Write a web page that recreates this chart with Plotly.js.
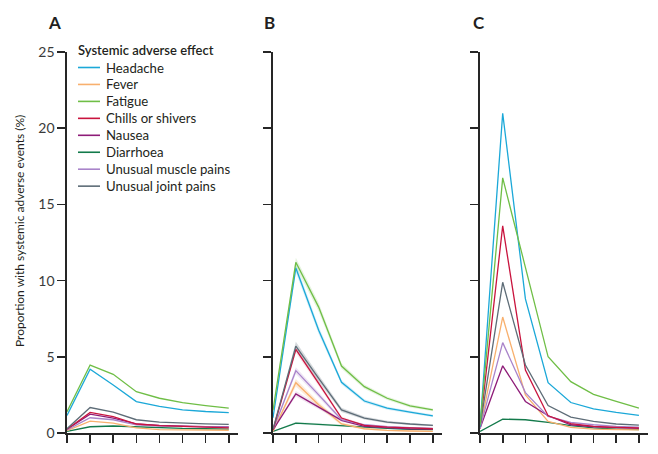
<!DOCTYPE html>
<html>
<head>
<meta charset="utf-8">
<script src="https://cdn.plot.ly/plotly-3.0.1.min.js"></script>
<style>
html,body{margin:0;padding:0;background:#fff;}
#chart{width:658px;height:454px;}
</style>
</head>
<body>
<div id="chart"></div>
<script>
// ---- data ----
var days = [0, 1, 2, 3, 4, 5, 6, 7];
var seriesNames = ["Headache", "Fever", "Fatigue", "Chills or shivers", "Nausea", "Diarrhoea", "Unusual muscle pains", "Unusual joint pains"];
var yTickVals = [0, 5, 10, 15, 20, 25];
var panelLabels = ["A", "B", "C"];
var legendTitle = "Systemic adverse effect";
var yTitle = "Proportion with systemic adverse events (%)";

// Panel A
var headacheA  = [1.15, 4.19, 3.15, 2.06, 1.74, 1.52, 1.41, 1.34];
var feverA     = [0.15, 0.78, 0.65, 0.33, 0.22, 0.20, 0.20, 0.18];
var fatigueA   = [1.39, 4.46, 3.85, 2.71, 2.28, 2.00, 1.80, 1.63];
var chillsA    = [0.25, 1.35, 1.08, 0.59, 0.48, 0.43, 0.39, 0.33];
var nauseaA    = [0.25, 1.24, 0.98, 0.60, 0.50, 0.45, 0.42, 0.40];
var diarrhoeaA = [0.10, 0.41, 0.46, 0.40, 0.35, 0.30, 0.28, 0.26];
var muscleA    = [0.20, 1.00, 0.87, 0.54, 0.45, 0.42, 0.40, 0.38];
var jointA     = [0.28, 1.67, 1.37, 0.87, 0.72, 0.65, 0.60, 0.57];

// Panel B
var headacheB  = [1.00, 10.83, 6.74, 3.33, 2.10, 1.63, 1.37, 1.13];
var feverB     = [0.10, 3.30, 1.85, 0.59, 0.28, 0.17, 0.13, 0.11];
var fatigueB   = [1.50, 11.20, 8.26, 4.39, 3.04, 2.28, 1.78, 1.52];
var chillsB    = [0.20, 5.48, 3.26, 0.98, 0.50, 0.39, 0.33, 0.28];
var nauseaB    = [0.20, 2.57, 1.70, 0.83, 0.43, 0.35, 0.28, 0.26];
var diarrhoeaB = [0.10, 0.65, 0.57, 0.48, 0.37, 0.30, 0.24, 0.22];
var muscleB    = [0.20, 4.09, 2.50, 0.87, 0.54, 0.41, 0.35, 0.30];
var jointB     = [0.25, 5.70, 3.59, 1.52, 0.98, 0.72, 0.59, 0.50];

// Panel B confidence half-widths
var headacheBci  = [0.10, 0.30, 0.25, 0.15, 0.12, 0.10, 0.09, 0.08];
var feverBci     = [0.05, 0.25, 0.18, 0.10, 0.06, 0.05, 0.04, 0.04];
var fatigueBci   = [0.10, 0.30, 0.28, 0.18, 0.14, 0.12, 0.10, 0.09];
var chillsBci    = [0.05, 0.22, 0.18, 0.10, 0.06, 0.05, 0.05, 0.04];
var nauseaBci    = [0.05, 0.18, 0.14, 0.09, 0.06, 0.05, 0.04, 0.04];
var diarrhoeaBci = [0.03, 0.08, 0.07, 0.06, 0.05, 0.04, 0.04, 0.04];
var muscleBci    = [0.05, 0.22, 0.17, 0.10, 0.07, 0.06, 0.05, 0.05];
var jointBci     = [0.05, 0.28, 0.22, 0.14, 0.10, 0.08, 0.07, 0.06];

// Panel C
var headacheC  = [0.40, 20.98, 8.80, 3.30, 2.00, 1.59, 1.35, 1.15];
var feverC     = [0.30, 7.61, 2.50, 0.76, 0.37, 0.26, 0.22, 0.20];
var fatigueC   = [0.50, 16.74, 10.87, 5.00, 3.37, 2.54, 2.07, 1.63];
var chillsC    = [0.40, 13.59, 4.13, 1.13, 0.61, 0.43, 0.37, 0.33];
var nauseaC    = [0.30, 4.41, 2.07, 1.13, 0.54, 0.41, 0.35, 0.30];
var diarrhoeaC = [0.10, 0.91, 0.87, 0.70, 0.48, 0.33, 0.26, 0.22];
var muscleC    = [0.30, 5.93, 2.65, 1.09, 0.70, 0.54, 0.43, 0.39];
var jointC     = [0.40, 9.89, 4.46, 1.80, 1.04, 0.76, 0.59, 0.52];

// ---- styles ----
var FONT = "Lato, 'Open Sans', sans-serif";
var colors = ["#1ba8d8", "#f8b06e", "#6fbe46", "#c9143e", "#8e1c78", "#137a4b", "#a984ca", "#5d6c77"];
var fills  = ["rgba(27,168,216,0.18)", "rgba(248,176,110,0.25)", "rgba(111,190,70,0.18)", "rgba(201,20,62,0.12)",
              "rgba(142,28,120,0.12)", "rgba(19,122,75,0.12)", "rgba(169,132,202,0.2)", "rgba(93,108,119,0.25)"];
var drawOrder = [5, 1, 4, 6, 3, 7, 0, 2];

var panels = [
  {xa: "x",  ya: "y",  vals: [headacheA, feverA, fatigueA, chillsA, nauseaA, diarrhoeaA, muscleA, jointA], ci: null},
  {xa: "x2", ya: "y2", vals: [headacheB, feverB, fatigueB, chillsB, nauseaB, diarrhoeaB, muscleB, jointB],
   ci: [headacheBci, feverBci, fatigueBci, chillsBci, nauseaBci, diarrhoeaBci, muscleBci, jointBci]},
  {xa: "x3", ya: "y3", vals: [headacheC, feverC, fatigueC, chillsC, nauseaC, diarrhoeaC, muscleC, jointC], ci: null}
];

var traces = [];
panels.forEach(function (p) {
  if (p.ci) {
    drawOrder.forEach(function (i) {
      var lo = p.vals[i].map(function (v, k) { return Math.max(0, v - p.ci[i][k]); });
      var hi = p.vals[i].map(function (v, k) { return v + p.ci[i][k]; });
      traces.push({x: days, y: lo, xaxis: p.xa, yaxis: p.ya, mode: "lines", line: {width: 0, color: colors[i]},
                   showlegend: false, hoverinfo: "skip"});
      traces.push({x: days, y: hi, xaxis: p.xa, yaxis: p.ya, mode: "lines", line: {width: 0, color: colors[i]},
                   fill: "tonexty", fillcolor: fills[i], showlegend: false, hoverinfo: "skip"});
    });
  }
  drawOrder.forEach(function (i) {
    traces.push({x: days, y: p.vals[i], xaxis: p.xa, yaxis: p.ya, mode: "lines", name: seriesNames[i],
                 line: {color: colors[i], width: 1.3}, showlegend: false});
  });
});

var W = 658, H = 454;
function px(x) { return x / W; }
function py(y) { return 1 - y / H; }

var axisColor = "#262626";
var yDom = [py(433), py(52)];
var xDoms = [[px(67), px(238)], [px(273), px(442)], [px(480), px(648)]];

function xAxis(d) {
  return {domain: d, range: [0, 7.4], showline: true, linecolor: axisColor, linewidth: 1.6,
          ticks: "outside", ticklen: 8, tickwidth: 1.6, tickcolor: axisColor,
          tickvals: days, showticklabels: false, showgrid: false, zeroline: false, fixedrange: true};
}
function yAxis(d, labels, anchor) {
  return {domain: d, range: [0, 25], anchor: anchor, showline: true, linecolor: axisColor, linewidth: 1.6,
          ticks: "outside", ticklen: 8, tickwidth: 1.6, tickcolor: axisColor,
          tickvals: yTickVals, showticklabels: labels, showgrid: false, zeroline: false,
          tickfont: {family: FONT, size: 14, color: "#3a3a3a"}, fixedrange: true};
}

var annotations = [];
var panelX = [46, 262, 471];
panelLabels.forEach(function (t, k) {
  annotations.push({xref: "paper", yref: "paper", x: px(panelX[k]), y: py(22), xanchor: "left", yanchor: "middle",
                    text: "<b>" + t + "</b>", showarrow: false,
                    font: {family: FONT, size: 17, color: "#231f20"}});
});
annotations.push({xref: "paper", yref: "paper", x: px(20), y: py(231), xanchor: "center", yanchor: "middle",
                  textangle: -90, text: yTitle, showarrow: false,
                  font: {family: FONT, size: 12, color: "#231f20"}});
annotations.push({xref: "paper", yref: "paper", x: px(76), y: py(50), xanchor: "left", yanchor: "middle",
                  text: legendTitle, showarrow: false,
                  font: {family: FONT, size: 13, weight: 600, color: "#231f20"}});

var shapes = [];
seriesNames.forEach(function (n, i) {
  var yy = 67.5 + i * 16.95;
  shapes.push({type: "line", xref: "paper", yref: "paper", x0: px(78), x1: px(100), y0: py(yy), y1: py(yy),
               line: {color: colors[i], width: 1.6}});
  annotations.push({xref: "paper", yref: "paper", x: px(104), y: py(yy), xanchor: "left", yanchor: "middle",
                    text: n, showarrow: false,
                    font: {family: FONT, size: 13.2, color: "#231f20"}});
});

var layout = {
  width: W, height: H,
  margin: {l: 0, r: 0, t: 0, b: 0},
  paper_bgcolor: "#fff", plot_bgcolor: "rgba(0,0,0,0)",
  showlegend: false,
  xaxis: xAxis(xDoms[0]), xaxis2: xAxis(xDoms[1]), xaxis3: xAxis(xDoms[2]),
  yaxis: yAxis(yDom, true, "x"), yaxis2: yAxis(yDom, false, "x2"), yaxis3: yAxis(yDom, false, "x3"),
  annotations: annotations,
  shapes: shapes
};
layout.xaxis.anchor = "y"; layout.xaxis2.anchor = "y2"; layout.xaxis3.anchor = "y3";

Plotly.newPlot("chart", traces, layout, {displayModeBar: false, staticPlot: true});
</script>
</body>
</html>
